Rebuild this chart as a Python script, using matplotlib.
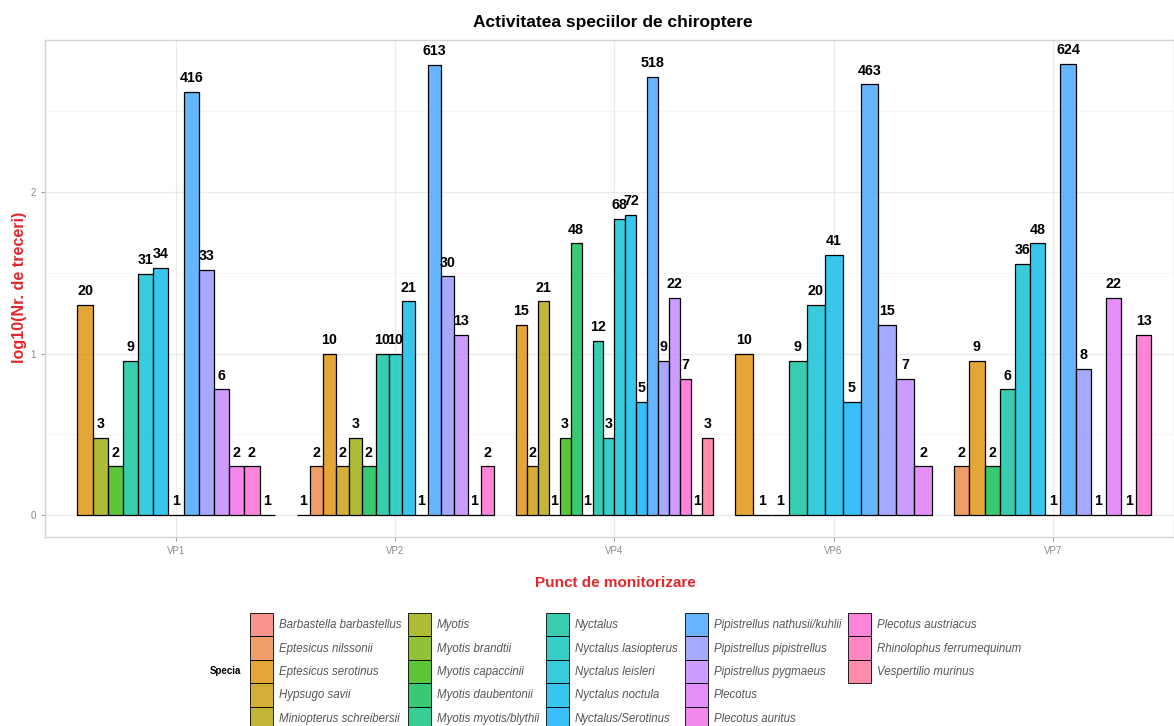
import numpy as np
import matplotlib
matplotlib.use("Agg")
import matplotlib.pyplot as plt
from matplotlib.patches import Patch

plt.rcParams['font.family'] = ['Liberation Sans', 'DejaVu Sans']

# Species (legend order)
species = [
    "Barbastella barbastellus", "Eptesicus nilssonii", "Eptesicus serotinus",
    "Hypsugo savii", "Miniopterus schreibersii", "Myotis", "Myotis brandtii",
    "Myotis capaccinii", "Myotis daubentonii", "Myotis myotis/blythii",
    "Nyctalus", "Nyctalus lasiopterus", "Nyctalus leisleri", "Nyctalus noctula",
    "Nyctalus/Serotinus", "Pipistrellus nathusii/kuhlii",
    "Pipistrellus pipistrellus", "Pipistrellus pygmaeus", "Plecotus",
    "Plecotus auritus", "Plecotus austriacus", "Rhinolophus ferrumequinum",
    "Vespertilio murinus",
]

stations = ["VP1", "VP2", "VP4", "VP6", "VP7"]

# number of passes per species at each station (None = not recorded)
N = None
vp1 = [N, N, 20, N, N, 3, N, 2, N, N, 9, N, 31, 34, 1, 416, 33, 6, N, 2, 2, N, 1]
vp2 = [1, 2, 10, 2, N, 3, N, N, 2, N, 10, 10, N, 21, 1, 613, 30, 13, 1, N, 2, N, N]
vp4 = [N, N, 15, 2, 21, 1, N, 3, 48, 1, 12, 3, 68, 72, 5, 518, 9, 22, N, N, 7, 1, 3]
vp6 = [N, N, 10, N, N, 1, N, N, 1, N, 9, N, 20, 41, 5, 463, 15, 7, 2, N, N, N, N]
vp7 = [N, 2, 9, N, N, N, N, N, 2, N, 6, N, 36, 48, 1, 624, 8, 1, 22, 1, 13, N, N]
counts = [vp1, vp2, vp4, vp6, vp7]


def hcl_to_rgb(h, c=100.0, l=65.0):
    # polar CIE-Luv -> sRGB (like R's hcl / ggplot hue palette)
    xn, yn, zn = 95.047, 100.0, 108.883
    un = 4 * xn / (xn + 15 * yn + 3 * zn)
    vn = 9 * yn / (xn + 15 * yn + 3 * zn)
    u = c * np.cos(np.radians(h))
    v = c * np.sin(np.radians(h))
    y = yn * ((l + 16) / 116) ** 3
    up = u / (13 * l) + un
    vp = v / (13 * l) + vn
    x = y * 9 * up / (4 * vp)
    z = y * (12 - 3 * up - 20 * vp) / (4 * vp)
    x, y, z = x / 100, y / 100, z / 100
    r = 3.2406 * x - 1.5372 * y - 0.4986 * z
    g = -0.9689 * x + 1.8758 * y + 0.0415 * z
    b = 0.0557 * x - 0.2040 * y + 1.0570 * z
    out = []
    for ch in (r, g, b):
        ch = 12.92 * ch if ch <= 0.0031308 else 1.055 * ch ** (1 / 2.4) - 0.055
        out.append(min(max(ch, 0), 1))
    return tuple(out)


n_sp = len(species)
hues = 15 + np.arange(n_sp) * 360 / n_sp
palette = [hcl_to_rgb(h) + (0.78,) for h in hues]

W, H = 1174, 726
fig = plt.figure(figsize=(W / 100, H / 100), dpi=100)
ax = fig.add_axes([45 / W, 1 - 537 / H, (W - 45) / W, (537 - 40) / H])

red = "#E0282D"

for gi, row in enumerate(counts):
    present = [i for i, v in enumerate(row) if v is not None]
    n = len(present)
    bw = 0.9 / n
    for k, si in enumerate(present):
        xc = gi + 1 - 0.45 + (k + 0.5) * bw
        val = row[si]
        h = np.log10(val)
        ax.bar(xc, h, width=bw, facecolor=palette[si], edgecolor="black",
               linewidth=0.9, zorder=3)
        ax.annotate(str(val), (xc, h), xytext=(0, 7), textcoords="offset points",
                    ha="center", va="baseline", fontsize=10.3, fontweight="bold",
                    zorder=4)

ax.set_xlim(0.402, 5.553)
ax.set_ylim(-0.136, 2.941)
ax.set_xticks(range(1, len(stations) + 1))
ax.set_xticklabels(stations)
ax.set_yticks([0, 1, 2])
ax.set_yticks([0.5, 1.5, 2.5], minor=True)
ax.tick_params(axis="both", which="major", labelsize=7, colors="#8A8A8A",
               length=3, width=0.6)
ax.tick_params(axis="y", which="minor", length=0)
ax.grid(which="major", color="#EBEBEB", linewidth=0.9, zorder=0)
ax.grid(which="minor", axis="y", color="#F3F3F3", linewidth=0.5, zorder=0)
ax.set_axisbelow(True)
for sp in ax.spines.values():
    sp.set_color("#D3D3D3")
    sp.set_linewidth(1.0)

fig.text(613 / W, 1 - 22 / H, "Activitatea speciilor de chiroptere", ha="center",
         va="center", fontsize=12.5, fontweight="bold")
fig.text(615 / W, 1 - 583 / H, "Punct de monitorizare", ha="center", va="center",
         fontsize=11, fontweight="bold", color=red)
fig.text(20 / W, 1 - 287 / H, "log10(Nr. de treceri)", ha="center", va="center",
         rotation=90, fontsize=11.6, fontweight="bold", color=red)

handles = [Patch(facecolor=palette[i], edgecolor="black", linewidth=0.6)
           for i in range(n_sp)]
labels = list(species)
# two empty slots so the last column holds only three keys, as in ggplot
for _ in range(2):
    handles.append(Patch(facecolor="none", edgecolor="none"))
    labels.append("")
leg = fig.legend(handles, labels, loc="upper left",
                 bbox_to_anchor=(250 / W, 1 - 613 / H), ncol=5, frameon=False,
                 fontsize=8.3, handlelength=2.0, handleheight=2.75,
                 labelspacing=0, handletextpad=0.5, columnspacing=0.6,
                 borderpad=0, borderaxespad=0)
for t in leg.get_texts():
    t.set_fontstyle("italic")
    t.set_color("#555555")
fig.text(241 / W, 1 - 671 / H, "Specia", ha="right", va="center", fontsize=7,
         fontweight="bold")

fig.savefig("out.png", dpi=100)
